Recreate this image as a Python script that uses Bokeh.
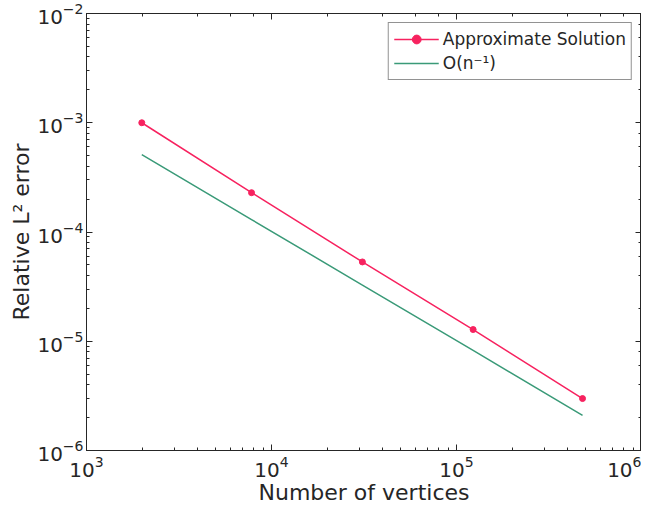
from bokeh.plotting import figure
from bokeh.models import LogAxis, Legend, LegendItem, ColumnDataSource
from bokeh.embed import file_html
from bokeh.resources import INLINE

# data
vertices = [1990, 7800, 31000, 123000, 480000]
approx_error = [1.0e-3, 2.29e-4, 5.32e-5, 1.28e-5, 2.99e-6]
order_ref = [5.1e-4, 1.3e-4, 3.27e-5, 8.25e-6, 2.1e-6]

RED = "#f7225f"
GREEN = "#3a9a78"
AX = "#262626"
FONT = "DejaVu Sans"

p = figure(x_axis_type="log", y_axis_type="log",
           x_range=(1e3, 1e6), y_range=(1e-6, 1e-2),
           frame_width=555, frame_height=437,
           output_backend="svg", toolbar_location=None,
           min_border_left=86, min_border_top=13, min_border_right=0, min_border_bottom=0,
           background_fill_color="white", border_fill_color="white")
p.xgrid.visible = False
p.ygrid.visible = False
p.outline_line_color = AX
p.outline_line_width = 1

src = ColumnDataSource(dict(x=vertices, y=approx_error, r=order_ref))
l1 = p.line("x", "y", source=src, line_color=RED, line_width=1.5)
s1 = p.scatter("x", "y", source=src, size=6, fill_color=RED, line_color=RED)
l2 = p.line("x", "r", source=src, line_color=GREEN, line_width=1.5)

def style(ax, labels=True):
    ax.axis_line_color = AX
    ax.major_tick_line_color = AX
    ax.minor_tick_line_color = AX
    ax.major_tick_in = 6
    ax.major_tick_out = 0
    ax.minor_tick_in = 3
    ax.minor_tick_out = 0
    ax.major_label_text_font = FONT
    ax.major_label_text_font_size = "20px"
    ax.major_label_text_color = AX if labels else None
    ax.axis_label_text_font = FONT
    ax.axis_label_text_font_size = "22px"
    ax.axis_label_text_font_style = "normal"
    ax.axis_label_text_color = AX

style(p.xaxis[0])
style(p.yaxis[0])
p.xaxis[0].axis_label = "Number of vertices"
p.yaxis[0].axis_label = "Relative L² error"
p.xaxis[0].major_label_standoff = 5
p.yaxis[0].major_label_standoff = 3
p.xaxis[0].axis_label_standoff = 0
p.yaxis[0].axis_label_standoff = 0

top = LogAxis()
style(top, labels=False)
top.major_label_text_font_size = "0px"
p.add_layout(top, "above")
right = LogAxis()
style(right, labels=False)
right.major_label_text_font_size = "0px"
p.add_layout(right, "right")

legend = Legend(items=[LegendItem(label="Approximate Solution", renderers=[l1, s1]),
                       LegendItem(label="O(n⁻¹)", renderers=[l2])],
                location="top_right")
legend.label_text_font = FONT
legend.label_text_font_size = "17px"
legend.label_text_color = AX
legend.border_line_color = AX
legend.border_line_width = 1
legend.glyph_width = 45
legend.glyph_height = 22
legend.label_height = 22
legend.spacing = 2
legend.padding = 5
legend.margin = 9
legend.label_standoff = 4
p.add_layout(legend)

open("out.html", "w").write(file_html(p, INLINE))
